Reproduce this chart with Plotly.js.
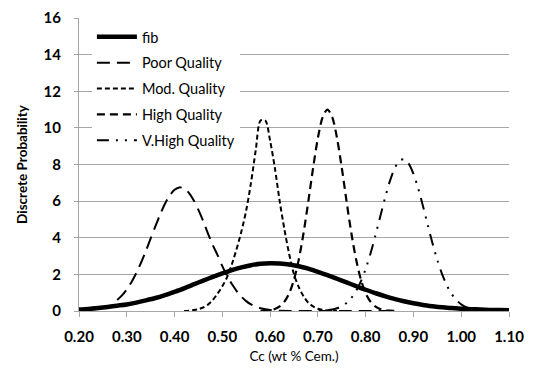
<!DOCTYPE html>
<html>
<head>
<meta charset="utf-8">
<script src="https://cdn.plot.ly/plotly-3.0.1.min.js"></script>
<style>html,body{margin:0;padding:0;background:#fff;}#chart{width:533px;height:369px;}</style>
</head>
<body>
<div id="chart"></div>
<script>
// ---- data ----
const seriesNames = ["fib", "Poor Quality", "Mod. Quality", "High Quality", "V.High Quality"];

const fibX = [0.20,0.22,0.24,0.26,0.28,0.30,0.32,0.34,0.36,0.38,0.40,0.42,0.44,0.46,0.48,0.50,0.52,0.54,0.56,0.58,0.60,0.62,0.64,0.66,0.68,0.70,0.72,0.74,0.76,0.78,0.80,0.82,0.84,0.86,0.88,0.90,0.92,0.94,0.96,0.98,1.00,1.02,1.04,1.06,1.08,1.10];
const fibY = [0.08,0.11,0.16,0.22,0.29,0.36,0.46,0.58,0.71,0.87,1.05,1.24,1.45,1.66,1.86,2.05,2.23,2.38,2.50,2.58,2.61,2.59,2.54,2.44,2.31,2.14,1.96,1.76,1.56,1.36,1.16,0.98,0.81,0.66,0.53,0.42,0.33,0.26,0.20,0.16,0.12,0.10,0.08,0.06,0.05,0.04];

const poorX = [0.28,0.29,0.30,0.31,0.32,0.33,0.34,0.35,0.36,0.37,0.38,0.39,0.40,0.41,0.42,0.43,0.44,0.45,0.46,0.47,0.48,0.49,0.50,0.51,0.52,0.53,0.54,0.55,0.56,0.57,0.58,0.59,0.60,0.61,0.62,0.64,0.66,0.70,0.75,0.80,0.86];
const poorY = [0.60,0.85,1.18,1.59,2.08,2.65,3.28,3.96,4.64,5.28,5.86,6.31,6.62,6.75,6.69,6.45,6.05,5.52,4.90,4.23,3.60,3.05,2.45,1.92,1.47,1.09,0.78,0.54,0.36,0.24,0.15,0.09,0.055,0.03,0.017,0.005,0.001,0,0,0,0];

const modX = [0.42,0.43,0.44,0.45,0.46,0.47,0.48,0.49,0.50,0.51,0.52,0.53,0.54,0.55,0.56,0.57,0.58,0.59,0.60,0.61,0.62,0.63,0.64,0.65,0.66,0.67,0.68,0.69,0.70,0.71,0.72,0.73,0.74];
const modY = [0.00,0.02,0.05,0.10,0.19,0.35,0.60,0.95,1.35,1.85,2.55,3.40,4.35,5.50,7.00,8.80,10.40,10.40,9.30,7.80,6.00,4.45,3.10,2.00,1.30,0.80,0.45,0.25,0.12,0.06,0.03,0.01,0.00];

const highX = [0.58,0.59,0.60,0.61,0.62,0.63,0.64,0.65,0.66,0.67,0.68,0.69,0.70,0.71,0.72,0.73,0.74,0.75,0.76,0.77,0.78,0.79,0.80,0.81,0.82,0.83,0.84,0.85,0.86];
const highY = [0.006,0.018,0.047,0.11,0.25,0.51,0.97,1.72,2.81,4.26,5.99,7.82,9.45,10.59,11.00,10.59,9.45,7.82,5.99,4.26,2.81,1.72,0.97,0.51,0.25,0.11,0.047,0.018,0.006];

const vhighX = [0.72,0.73,0.74,0.75,0.76,0.77,0.78,0.79,0.80,0.81,0.82,0.83,0.84,0.85,0.86,0.87,0.88,0.89,0.90,0.91,0.92,0.93,0.94,0.95,0.96,0.97,0.98,0.99,1.00,1.01,1.02,1.03,1.04];
const vhighY = [0.04,0.08,0.15,0.26,0.44,0.71,1.10,1.62,2.30,3.13,4.08,5.11,6.12,7.04,7.75,8.19,8.29,8.05,7.49,6.69,5.72,4.69,3.69,2.78,2.01,1.39,0.93,0.59,0.36,0.21,0.12,0.06,0.03];

const xTickVals = [0.20,0.30,0.40,0.50,0.60,0.70,0.80,0.90,1.00,1.10];
const xTickText = ["0.20","0.30","0.40","0.50","0.60","0.70","0.80","0.90","1.00","1.10"];
const yTickVals = [0,2,4,6,8,10,12,14,16];

// ---- styling ----
const FONT = "Lato, 'Open Sans', 'DejaVu Sans', sans-serif";
const dashes = ["solid", "13px,7px", "5px,3px", "8px,5px", "12px,7px,2px,7px,2px,7px"];
const widths = [4.5, 2, 2, 2.2, 2];
const xs = [fibX, poorX, modX, highX, vhighX];
const ys = [fibY, poorY, modY, highY, vhighY];

const traces = seriesNames.map((name, i) => ({
  type: "scatter",
  mode: "lines",
  name: name,
  x: xs[i],
  y: ys[i],
  legendgroup: "g" + i,
  line: {color: "#000000", width: widths[i], dash: dashes[i], shape: "spline", smoothing: 0.8},
  hoverinfo: "x+y+name"
}));

const layout = {
  width: 533,
  height: 369,
  margin: {l: 79, r: 24, t: 18, b: 58},
  paper_bgcolor: "#ffffff",
  plot_bgcolor: "#ffffff",
  font: {family: FONT, color: "#000000"},
  showlegend: true,
  legend: {
    x: 0.03, y: 0.99, xanchor: "left", yanchor: "top",
    bgcolor: "#ffffff",
    font: {family: FONT, size: 14.5, color: "#000000"},
    tracegroupgap: 4,
    itemwidth: 40,
    traceorder: "grouped"
  },
  xaxis: {
    range: [0.2, 1.1],
    tickmode: "array",
    tickvals: xTickVals,
    ticktext: xTickText,
    ticks: "outside",
    ticklen: 5,
    tickcolor: "#a6a6a6",
    ticklabelstandoff: 7,
    showgrid: false,
    showline: true,
    linecolor: "#a6a6a6",
    linewidth: 1,
    zeroline: false,
    tickfont: {family: FONT, size: 15, color: "#000000", weight: "bold"},
    title: {text: "Cc (wt % Cem.)", font: {family: FONT, size: 13.5, color: "#000000"}, standoff: 7}
  },
  yaxis: {
    range: [0, 16],
    tickmode: "array",
    tickvals: yTickVals,
    ticks: "outside",
    ticklen: 4,
    tickcolor: "#a6a6a6",
    ticklabelstandoff: 10,
    showgrid: true,
    gridcolor: "#a6a6a6",
    gridwidth: 1,
    showline: true,
    linecolor: "#a6a6a6",
    linewidth: 1,
    zeroline: false,
    tickfont: {family: FONT, size: 15, color: "#000000", weight: "bold"},
    title: {text: "Discrete Probability", font: {family: FONT, size: 13.5, color: "#000000", weight: "bold"}, standoff: 12}
  }
};

Plotly.newPlot("chart", traces, layout, {displayModeBar: false, staticPlot: true});
</script>
</body>
</html>
